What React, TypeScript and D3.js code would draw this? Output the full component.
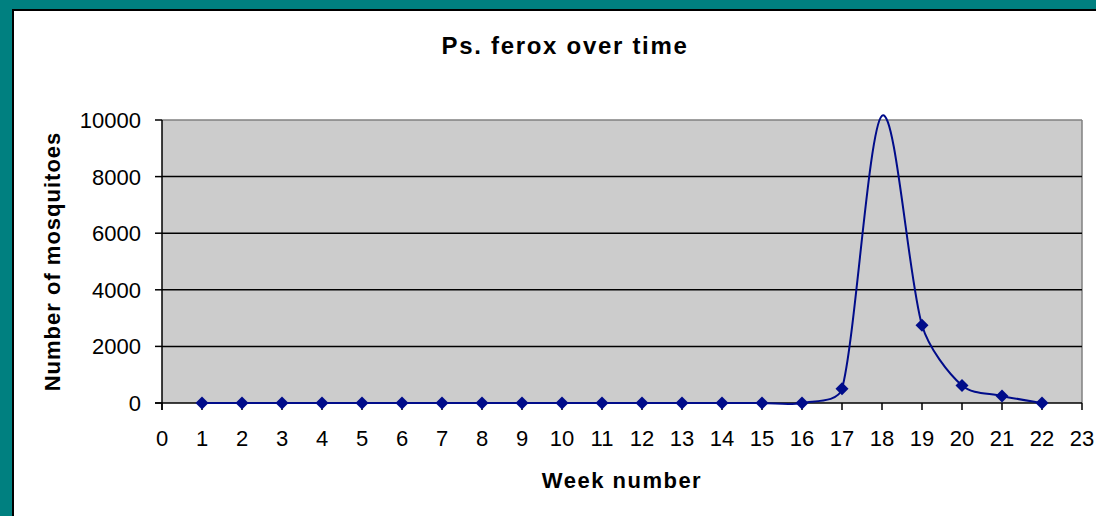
import React from "react";
import * as d3 from "d3";

const weeks = [1, 2, 3, 4, 5, 6, 7, 8, 9, 10, 11, 12, 13, 14, 15, 16, 17, 18, 19, 20, 21, 22];
const counts = [0, 0, 0, 0, 0, 0, 0, 0, 0, 0, 0, 0, 0, 0, 0, 0, 500, 10150, 2750, 620, 250, 0];
const xTicks = d3.range(0, 24);
const yTicks = [0, 2000, 4000, 6000, 8000, 10000];
const gridValues = [2000, 4000, 6000, 8000];

const W = 1096;
const H = 516;
const left = 162;
const right = 1082;
const top = 120;
const bottom = 403;
const font = "Liberation Sans, Arial, sans-serif";
const navy = "#000c8a";

// Excel-like smoothing: Bezier with tangent (P[i+1]-P[i-1])/6, arms clamped to a third of the segment
function smoothPath(pts: [number, number][]) {
  const p = d3.path();
  const n = pts.length;
  const tan = pts.map((_, i) => {
    const a = pts[Math.max(0, i - 1)];
    const b = pts[Math.min(n - 1, i + 1)];
    return [(b[0] - a[0]) / 6, (b[1] - a[1]) / 6];
  });
  const clamp = (v: number[], maxLen: number) => {
    const l = Math.hypot(v[0], v[1]);
    if (l <= maxLen || l === 0) return v;
    return [(v[0] * maxLen) / l, (v[1] * maxLen) / l];
  };
  p.moveTo(pts[0][0], pts[0][1]);
  for (let i = 0; i < n - 1; i++) {
    const a = pts[i];
    const b = pts[i + 1];
    const seg = Math.hypot(b[0] - a[0], b[1] - a[1]);
    const t1 = clamp(tan[i], seg / 3);
    const t2 = clamp(tan[i + 1], seg / 3);
    p.bezierCurveTo(a[0] + t1[0], a[1] + t1[1], b[0] - t2[0], b[1] - t2[1], b[0], b[1]);
  }
  return p.toString();
}

export default function App() {
  const x = d3.scaleLinear().domain([0, 23]).range([left, right]);
  const y = d3.scaleLinear().domain([0, 10000]).range([bottom, top]);
  const pts: [number, number][] = weeks.map((w, i) => [x(w), y(counts[i])]);
  const line = smoothPath(pts);
  const diamond = (cx: number, cy: number, r = 6.5) =>
    `M${cx},${cy - r}L${cx + r},${cy}L${cx},${cy + r}L${cx - r},${cy}Z`;

  return (
    <svg width={W} height={H} style={{ position: "absolute", left: 0, top: 0, display: "block" }}>
      <rect x={0} y={0} width={W} height={H} fill="#008080" />
      <rect x={12} y={9} width={W} height={H} fill="#000" />
      <rect x={14} y={11} width={W} height={H} fill="#fff" />
      <text x={565} y={54} textAnchor="middle" fontFamily={font} fontWeight="bold" fontSize={24} letterSpacing={1.7}>
        Ps. ferox over time
      </text>
      <rect x={left} y={top} width={right - left} height={bottom - top} fill="#cccccc" />
      <line x1={left} x2={right} y1={top} y2={top} stroke="#808080" strokeWidth={1.5} />
      <line x1={right} x2={right} y1={top} y2={bottom} stroke="#808080" strokeWidth={1.5} />
      {gridValues.map((v) => (
        <line key={v} x1={left} x2={right} y1={y(v)} y2={y(v)} stroke="#000" strokeWidth={1.5} />
      ))}
      <line x1={left} x2={left} y1={top} y2={bottom + 7} stroke="#000" strokeWidth={1.5} />
      <line x1={left - 7} x2={right} y1={bottom} y2={bottom} stroke="#000" strokeWidth={1.5} />
      {yTicks.map((v) => (
        <g key={v}>
          <line x1={left - 7} x2={left} y1={y(v)} y2={y(v)} stroke="#000" strokeWidth={1.5} />
          <text x={left - 21} y={y(v) + 8} textAnchor="end" fontFamily={font} fontSize={22}>
            {v}
          </text>
        </g>
      ))}
      {xTicks.map((v) => (
        <g key={v}>
          <line x1={x(v)} x2={x(v)} y1={bottom} y2={bottom + 7} stroke="#000" strokeWidth={1.5} />
          <text x={x(v)} y={446} textAnchor="middle" fontFamily={font} fontSize={22}>
            {v}
          </text>
        </g>
      ))}
      <path d={line} fill="none" stroke={navy} strokeWidth={2} />
      {weeks.map((w, i) =>
        counts[i] <= 10000 ? <path key={w} d={diamond(x(w), y(counts[i]))} fill={navy} /> : null
      )}
      <text x={622} y={488} textAnchor="middle" fontFamily={font} fontWeight="bold" fontSize={22} letterSpacing={1.5}>
        Week number
      </text>
      <text
        transform={`translate(60,${(top + bottom) / 2}) rotate(-90)`}
        textAnchor="middle"
        fontFamily={font}
        fontWeight="bold"
        fontSize={22}
        letterSpacing={1}
      >
        Number of mosquitoes
      </text>
    </svg>
  );
}
